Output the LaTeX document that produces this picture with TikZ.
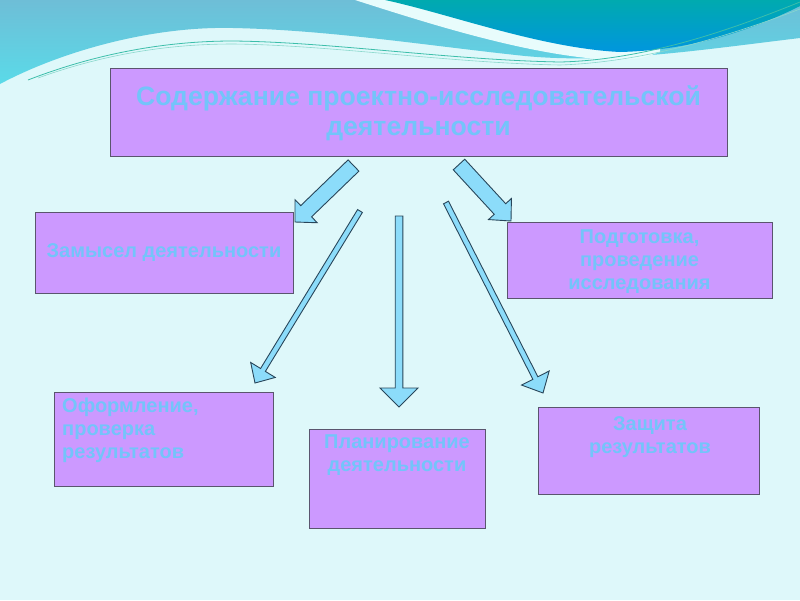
\documentclass[tikz,border=0pt]{standalone}
\usepackage{fontspec}
\setmainfont{Liberation Sans}
\usetikzlibrary{calc}

\definecolor{bgcyan}{RGB}{222,248,250}
\definecolor{bandtop}{RGB}{110,190,215}
\definecolor{bandlow}{RGB}{90,218,232}
\definecolor{blobtop}{RGB}{0,170,175}
\definecolor{bloblow}{RGB}{0,150,222}
\definecolor{stripe}{RGB}{232,252,252}
\definecolor{thread}{RGB}{60,190,170}
\definecolor{boxfill}{RGB}{204,153,255}
\definecolor{boxline}{RGB}{90,85,110}
\definecolor{inkblue}{RGB}{115,196,250}
\definecolor{arrowfill}{RGB}{140,220,250}
\definecolor{arrowline}{RGB}{40,70,90}

% #1 tail, #2 tip, #3 half shaft, #4 half head, #5 head length
\newcommand\blockarrow[5]{%
  \coordinate (neck) at ($(#2)!#5!(#1)$);
  \draw[arrowbody]
    ($(#1)!#3!90:(#2)$) --
    ($(neck)!#3!90:(#2)$) --
    ($(neck)!#4!90:(#2)$) --
    (#2) --
    ($(neck)!#4!-90:(#2)$) --
    ($(neck)!#3!-90:(#2)$) --
    ($(#1)!#3!-90:(#2)$) -- cycle
  ;
}

\begin{document}
\begin{tikzpicture}[
  x=1pt, y=-1pt,
  box/.style={draw=boxline, fill=boxfill, line width=1pt, inner sep=0pt},
  boxtext/.style={text=inkblue, inner sep=0pt,
    font=\fontsize{20}{23}\selectfont\bfseries},
  arrowbody/.style={draw=arrowline, fill=arrowfill, line width=0.9pt,
    line join=miter},
]
  \useasboundingbox (0,0) rectangle (800,600);
  \fill[bgcyan] (0,0) rectangle (800,600);

  % top waves
  \shade[top color=bandtop, bottom color=bandlow]
    (0,0) -- (0,84)
    .. controls (60,52) and (150,26) .. (233,28)
    .. controls (330,30) and (430,46) .. (525,56)
    .. controls (610,64) and (700,50) .. (800,38)
    -- (800,0) -- cycle
  ;
  \fill[stripe]
    (355,0)
    .. controls (430,24) and (530,56) .. (612,60)
    .. controls (640,59) .. (660,52)
    -- (660,0) -- cycle
  ;
  \shade[top color=blobtop, bottom color=bloblow]
    (385,0)
    .. controls (450,14) and (540,48) .. (620,52)
    .. controls (700,50) and (760,26) .. (800,6)
    -- (800,0) -- cycle
  ;
  \draw[thread, line width=0.8pt]
    (28,80) .. controls (100,52) and (170,41) .. (233,41)
    .. controls (330,42) and (450,60) .. (560,62)
    .. controls (650,60) and (740,26) .. (800,2)
  ;
  \draw[thread!60!white, line width=0.6pt]
    (38,78) .. controls (110,52) and (175,44) .. (233,44)
    .. controls (330,45) and (450,63) .. (560,65)
    .. controls (650,62) and (740,32) .. (800,9)
  ;

  % boxes
  \node[box, minimum width=617pt, minimum height=88pt] (content) at (418.5,112) {};
  \node[box, minimum width=258pt, minimum height=81pt] (idea) at (164,252.5) {};
  \node[box, minimum width=265pt, minimum height=76pt] (research) at (639.5,260) {};
  \node[box, minimum width=219pt, minimum height=94pt] (design) at (163.5,439) {};
  \node[box, minimum width=176pt, minimum height=99pt] (plan) at (397,478.5) {};
  \node[box, minimum width=221pt, minimum height=87pt] (defence) at (648.5,450.5) {};

  % texts
  \node[boxtext, font=\fontsize{26.6}{30}\selectfont\bfseries, align=center]
    (content-t) at (418.5,113) {Содержание проектно-исследовательской\\деятельности};
  \node[boxtext] (idea-t) at (164,253) {Замысел деятельности};
  \node[boxtext, align=center] (research-t) at (639.5,262)
    {Подготовка,\\проведение\\исследования};
  \node[boxtext, align=left, anchor=north west] (design-t) at (62,398)
    {Оформление,\\проверка\\результатов};
  \node[boxtext, align=center, anchor=north] (plan-t) at (397,435)
    {Планирование\\деятельности};
  \node[boxtext, align=center, anchor=north] (defence-t) at (650,416)
    {Защита\\результатов};

  % arrows
  \coordinate (a1) at (353.5,165.5);
  \coordinate (b1) at (295,222);
  \coordinate (a2) at (459,164.5);
  \coordinate (b2) at (511,221);
  \coordinate (a3) at (360,211);
  \coordinate (b3) at (255,383);
  \coordinate (a4) at (399,216);
  \coordinate (b4) at (399,407);
  \coordinate (a5) at (446,202.5);
  \coordinate (b5) at (543,393);
  \blockarrow{a1}{b1}{7.8pt}{16pt}{15.5pt}
  \blockarrow{a2}{b2}{7.8pt}{15.6pt}{16.3pt}
  \blockarrow{a3}{b3}{2.8pt}{14.4pt}{15.3pt}
  \blockarrow{a4}{b4}{3.8pt}{19pt}{19pt}
  \blockarrow{a5}{b5}{2.8pt}{15.5pt}{16.8pt}

\end{tikzpicture}
\end{document}
